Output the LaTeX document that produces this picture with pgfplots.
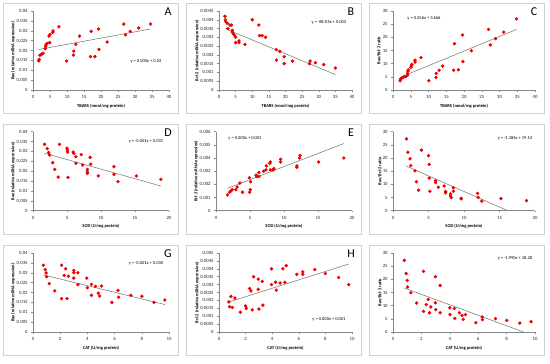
\documentclass[border=0pt]{standalone}
\usepackage{pgfplots}
\pgfplotsset{compat=1.18}
\usepackage{fontspec}
\setmainfont{Carlito}
\definecolor{axgray}{RGB}{134,134,134}
\definecolor{trend}{RGB}{128,128,128}
\definecolor{mk}{RGB}{240,0,0}
\pgfplotsset{
 panel/.style={scale only axis, anchor=south west, axis lines*=left,
  axis line style={draw=axgray, line width=0.4pt},
  tick align=outside, major tick length=1.8pt,
  tick style={draw=axgray, line width=0.4pt},
  ticklabel style={font=\fontsize{4.8}{5.5}\selectfont, text=black!85},
  label style={font=\bfseries\fontsize{4.5}{5.5}\selectfont},
  scaled ticks=false, /pgf/number format/assume math mode=true,
  clip=false, xmin=0, ymin=0},
 ylab/.style={ylabel style={at={(axis description cs:#1,0.5)}, anchor=center}},
 xlab/.style={xlabel style={at={(axis description cs:0.5,#1)}, anchor=center}},
 pts/.style={only marks, mark=*, mark size=1.5pt, mark options={fill=mk, draw=mk}},
 tl/.style={no marks, draw=trend, line width=0.6pt},
 yA/.style={ymax=0.04, ytick={0,0.005,0.01,0.015,0.02,0.025,0.03,0.035,0.04}, yticklabels={0,0.005,0.01,0.015,0.02,0.025,0.03,0.035,0.04}},
 yR/.style={ymax=30, ytick={0,5,10,15,20,25,30}},
}
\newcommand{\eqfont}{\fontsize{4.5}{5.5}\selectfont}
\begin{document}
\begin{tikzpicture}[x=1pt,y=1pt]
\useasboundingbox (0,0) rectangle (550,364);
\foreach \c in {0,1,2}{\foreach \r in {0,1,2}{
 \draw[black!18, line width=0.4pt] ({3+183*\c},{364-3-121*\r}) rectangle ({3+183*\c+175},{364-3-121*\r-110});
}}
% ---------------- A
\begin{axis}[panel, at={(33pt,274pt)}, width=136pt, height=79pt, xmax=40, xtick={0,5,...,40}, yA,
 ylab=-0.147, xlab=-0.2, xlabel={TBARS (nmol/mg protein)}, ylabel={Bax (relative mRNA expression)}]
\addplot[pts] coordinates {(1.7,0.0147)(1.8,0.0155)(2.0,0.0176)(2.4,0.0179)(2.6,0.0182)(3.0,0.0186)(3.6,0.0209)(3.7,0.0219)(3.8,0.0228)(4.1,0.0236)(4.9,0.0240)(4.7,0.0273)(5.0,0.0282)(5.8,0.0292)(5.9,0.0299)(7.6,0.0320)(9.9,0.0147)(11.9,0.0177)(12.0,0.0197)(12.6,0.0231)(13.7,0.0273)(17.1,0.0297)(16.9,0.0169)(18.2,0.0169)(19.3,0.0309)(19.4,0.0206)(21.8,0.0243)(26.7,0.0334)(27.2,0.0279)(28.6,0.0297)(31.1,0.0314)(34.6,0.0334)};
\addplot[tl] coordinates {(1.7,0.0205)(34.6,0.0309)};
\end{axis}
\node[font=\eqfont] at (146,303) {y = 0.000x + 0.02};
\node[font=\fontsize{12}{12}\selectfont] at (168,352) {A};
% ---------------- B
\begin{axis}[panel, at={(219pt,274pt)}, width=133pt, height=79pt, xmax=40, xtick={0,5,...,40}, ymax=0.0045,
 ytick={0,0.0005,0.001,0.0015,0.002,0.0025,0.003,0.0035,0.004,0.0045}, yticklabels={0,0.0005,0.001,0.0015,0.002,0.0025,0.003,0.0035,0.004,0.0045},
 ylab=-0.165, xlab=-0.2, xlabel={TBARS (nmol/mg protein)}, ylabel={Bcl-2 (relative mRNA expression)}]
\addplot[pts] coordinates {(1.8,0.0042)(1.9,0.0040)(2.0,0.0039)(2.5,0.0038)(2.7,0.0035)(3.3,0.0037)(3.8,0.0037)(4.0,0.0034)(4.0,0.0033)(4.3,0.0032)(4.7,0.0031)(5.0,0.0030)(5.0,0.0027)(6.0,0.0028)(6.0,0.0027)(7.8,0.0026)(10.0,0.0040)(12.0,0.0037)(12.2,0.0031)(13.0,0.0031)(14.0,0.0030)(17.2,0.0023)(17.3,0.0017)(18.3,0.0022)(19.6,0.0019)(19.6,0.0015)(22.1,0.00165)(27.2,0.0015)(27.4,0.00165)(29.0,0.00155)(31.5,0.00145)(35.0,0.00125)};
\addplot[tl] coordinates {(1.8,0.0035)(35.0,0.00088)};
\end{axis}
\node[font=\eqfont] at (329,342) {y = -8E-05x + 0.003};
\node[font=\fontsize{12}{12}\selectfont] at (351,352) {B};
% ---------------- C
\begin{axis}[panel, at={(393pt,274pt)}, width=142pt, height=79pt, xmax=40, xtick={0,5,...,40}, yR,
 ylab=-0.099, xlab=-0.2, xlabel={TBARS (nmol/mg protein)}, ylabel={Bax/Bcl-2 ratio}]
\addplot[pts] coordinates {(2.0,3.5)(2.1,4.2)(2.4,4.4)(2.8,4.8)(3.1,5.1)(3.6,5.1)(4.1,5.6)(4.1,6.3)(4.2,7.1)(4.3,7.6)(5.0,8.6)(5.2,9.2)(5.3,9.7)(6.2,10.6)(6.2,11.3)(7.9,12.3)(10.1,3.5)(12.1,4.8)(12.2,6.3)(13.0,7.5)(14.0,9.1)(17.3,17.6)(17.1,7.5)(18.4,7.7)(19.6,20.9)(19.7,10.8)(22.1,14.9)(26.9,23.0)(27.4,17.1)(28.9,19.5)(31.2,22.0)(34.8,27.0)};
\addplot[tl] coordinates {(2.0,4.78)(34.8,23.0)};
\end{axis}
\node[font=\eqfont] at (424,346) {y = 0.556x + 3.666};
\node[font=\fontsize{12}{12}\selectfont] at (534,352) {C};
% ---------------- D
\begin{axis}[panel, at={(33pt,153.3pt)}, width=136pt, height=79pt, xmax=20, xtick={0,5,10,15,20}, yA,
 ylab=-0.147, xlab=-0.2, xlabel={SOD (U/mg protein)}, ylabel={Bax (relative mRNA expression)}]
\addplot[pts] coordinates {(1.7,0.0336)(2.1,0.0314)(2.3,0.0295)(2.45,0.0282)(2.9,0.0243)(3.2,0.0209)(3.7,0.0170)(3.9,0.0336)(5.0,0.0317)(5.05,0.0307)(5.1,0.0297)(5.15,0.0169)(5.9,0.0297)(6.0,0.0290)(6.3,0.0273)(6.3,0.0240)(7.1,0.0284)(7.3,0.0231)(8.0,0.0209)(8.0,0.0197)(8.0,0.0189)(8.4,0.0270)(8.5,0.0236)(9.6,0.0176)(11.9,0.0223)(11.9,0.0184)(12.5,0.0147)(15.2,0.0176)(18.8,0.0159)};
\addplot[tl] coordinates {(1.7,0.0291)(18.8,0.0125)};
\end{axis}
\node[font=\eqfont] at (146,223) {y = -0.001x + 0.031};
\node[font=\fontsize{12}{12}\selectfont] at (168,231) {D};
% ---------------- E
\begin{axis}[panel, at={(216pt,153.3pt)}, width=136pt, height=79pt, xmax=20, xtick={0,5,10,15,20}, ymax=0.006,
 ytick={0,0.001,0.002,0.003,0.004,0.005,0.006}, yticklabels={0,0.001,0.002,0.003,0.004,0.005,0.006},
 ylab=-0.147, xlab=-0.2, xlabel={SOD (U/mg protein)}, ylabel={Bcl-2 (relative mRNA expression)}]
\addplot[pts] coordinates {(1.7,0.0012)(2.0,0.0014)(2.2,0.0015)(2.4,0.0016)(2.9,0.0016)(3.1,0.0018)(3.5,0.0021)(3.9,0.0014)(4.9,0.0025)(4.95,0.0014)(5.05,0.0016)(5.1,0.0022)(5.9,0.0027)(6.0,0.0026)(6.3,0.0026)(6.3,0.0029)(7.0,0.0030)(7.35,0.0031)(7.4,0.0034)(7.9,0.0036)(7.99,0.0031)(8.0,0.0037)(8.4,0.0031)(8.5,0.0032)(9.5,0.0037)(9.5,0.0039)(11.9,0.0034)(11.9,0.0033)(12.3,0.0040)(12.35,0.0042)(15.1,0.0037)(18.8,0.0040)};
\addplot[tl] coordinates {(1.7,0.0017)(18.8,0.0051)};
\end{axis}
\node[font=\eqfont] at (245,226) {y = 0.000x + 0.001};
\node[font=\fontsize{12}{12}\selectfont] at (351,231) {E};
% ---------------- F
\begin{axis}[panel, at={(393pt,153.3pt)}, width=142pt, height=79pt, xmax=20, xtick={0,5,10,15,20}, yR,
 ylab=-0.092, xlab=-0.2, xlabel={SOD (U/mg protein)}, ylabel={Bax/Bcl-2 ratio}]
\addplot[pts] coordinates {(1.9,27.3)(2.1,22.2)(2.4,19.7)(2.5,17.1)(3.1,15.1)(3.3,11.0)(3.6,7.8)(4.0,23.0)(5.0,20.9)(5.1,17.6)(5.1,12.4)(5.2,7.4)(6.0,11.4)(6.0,10.7)(6.4,8.9)(7.2,9.4)(7.4,7.3)(7.4,6.8)(8.1,6.4)(8.1,5.6)(8.2,5.0)(8.5,8.7)(8.5,7.4)(9.6,4.7)(9.6,4.5)(11.9,6.6)(12.0,5.1)(12.5,3.6)(15.2,4.6)(18.8,3.8)};
\addplot[tl] coordinates {(1.9,16.89)(16.17,0)};
\end{axis}
\node[font=\eqfont] at (515,226) {y = -1.184x + 19.14};
% ---------------- G
\begin{axis}[panel, at={(33pt,32pt)}, width=136pt, height=79pt, xmax=10, xtick={0,2,4,6,8,10}, yA,
 ylab=-0.147, xlab=-0.2, xlabel={CAT (U/mg protein)}, ylabel={Bax (relative mRNA expression)}]
\addplot[pts] coordinates {(0.76,0.0338)(0.9,0.0316)(0.96,0.0299)(1.0,0.0280)(1.2,0.0245)(1.6,0.0208)(2.1,0.0338)(2.1,0.0169)(2.3,0.0287)(2.4,0.0320)(2.5,0.0169)(2.6,0.0282)(3.0,0.0312)(3.0,0.0300)(3.0,0.0273)(3.3,0.0300)(3.3,0.0240)(3.95,0.0273)(4.0,0.0224)(4.3,0.0241)(4.3,0.0186)(4.6,0.0231)(4.8,0.0197)(4.9,0.0182)(5.05,0.0233)(5.8,0.0150)(6.25,0.0211)(6.3,0.0176)(7.2,0.0186)(8.0,0.0181)(8.9,0.0150)(9.7,0.0162)};
\addplot[tl] coordinates {(0.76,0.0289)(9.7,0.0139)};
\end{axis}
\node[font=\eqfont] at (146,101) {y = -0.001x + 0.030};
\node[font=\fontsize{12}{12}\selectfont] at (168,110) {G};
% ---------------- H
\begin{axis}[panel, at={(219pt,32pt)}, width=133pt, height=79pt, xmax=10, xtick={0,2,4,6,8,10}, ymax=0.005,
 ytick={0,0.0005,0.001,0.0015,0.002,0.0025,0.003,0.0035,0.004,0.0045,0.005}, yticklabels={0,0.0005,0.001,0.0015,0.002,0.0025,0.003,0.0035,0.004,0.0045,0.005},
 ylab=-0.165, xlab=-0.2, xlabel={CAT (U/mg protein)}, ylabel={Bcl-2 (relative mRNA expression)}]
\addplot[pts] coordinates {(0.75,0.0019)(0.8,0.0016)(0.9,0.00225)(1.0,0.00155)(1.2,0.00215)(1.6,0.00125)(2.0,0.00165)(2.05,0.0015)(2.3,0.00275)(2.4,0.0026)(2.5,0.0014)(2.6,0.0035)(2.95,0.0027)(2.95,0.00335)(3.0,0.00145)(3.25,0.0032)(3.3,0.0017)(3.95,0.0040)(3.95,0.0030)(4.25,0.00315)(4.3,0.00265)(4.6,0.0031)(4.8,0.0040)(4.95,0.00315)(5.05,0.0042)(5.85,0.00365)(6.3,0.0038)(6.3,0.00365)(7.2,0.00395)(8.0,0.0037)(9.0,0.00345)(9.75,0.0030)};
\addplot[tl] coordinates {(0.75,0.0019)(9.75,0.0043)};
\end{axis}
\node[font=\eqfont] at (329,45) {y = 0.000x + 0.001};
\node[font=\fontsize{12}{12}\selectfont] at (351,110) {H};
% ---------------- I
\begin{axis}[panel, at={(393pt,32pt)}, width=142pt, height=79pt, xmax=10, xtick={0,2,4,6,8,10}, yR,
 ylab=-0.092, xlab=-0.2, xlabel={CAT (U/mg protein)}, ylabel={Bax/Bcl-2 ratio}]
\addplot[pts] coordinates {(0.8,27.2)(0.93,22.2)(1.0,19.6)(1.03,17.1)(1.26,14.9)(1.66,11.0)(2.15,23.0)(2.15,7.8)(2.34,10.4)(2.48,12.4)(2.57,7.3)(2.66,9.5)(2.99,21.0)(2.99,11.1)(3.01,8.5)(3.32,17.7)(3.32,7.3)(4.0,9.2)(4.02,6.6)(4.32,8.9)(4.35,5.2)(4.67,7.3)(4.86,6.3)(4.95,4.8)(5.1,6.6)(5.84,3.5)(6.28,5.7)(6.3,4.7)(7.22,5.1)(8.01,4.4)(8.93,3.4)(9.72,3.9)};
\addplot[tl] coordinates {(0.8,16.69)(9.19,0)};
\end{axis}
\node[font=\eqfont] at (515,106) {y = -1.990x + 18.28};
\end{tikzpicture}
\end{document}
